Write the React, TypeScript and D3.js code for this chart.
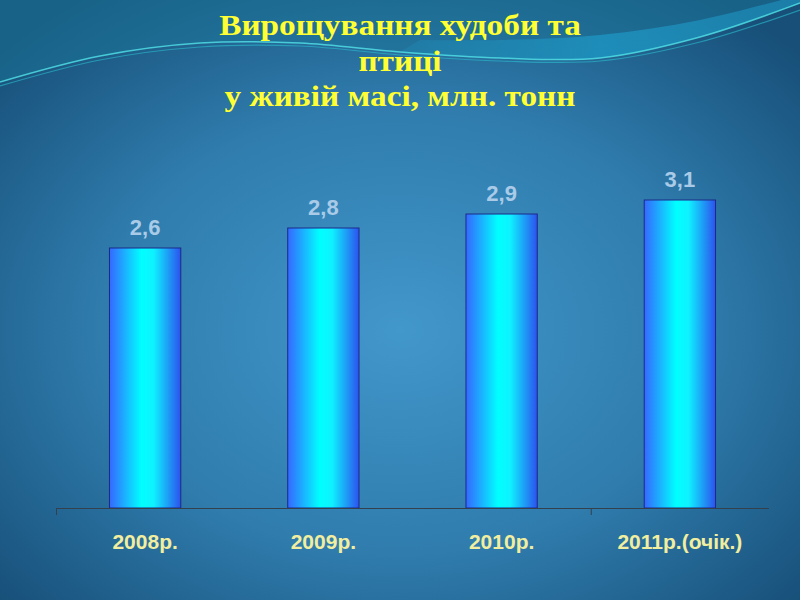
import React from "react";
import * as d3 from "d3";

const categories = ["2008р.", "2009р.", "2010р.", "2011р.(очік.)"];
const values = [2.6, 2.8, 2.94, 3.08];
const valueLabels = ["2,6", "2,8", "2,9", "3,1"];
const titleLines = ["Вирощування худоби та", "птиці", "у живій масі, млн. тонн"];

const W = 800;
const H = 600;

export default function App() {
  const x = d3.scaleBand<string>().domain(categories).range([56, 769]).paddingInner(0.6).paddingOuter(0.3);
  const y = d3.scaleLinear().domain([0, 3.5]).range([508, 158]);
  const band = x.step();
  const tickXs = [56, 56 + band * 3];
  const curve = d3.line().curve(d3.curveCatmullRom);
  const mainPts: [number, number][] = [[0, 82], [100, 56], [200, 43], [300, 43], [400, 52], [500, 58], [600, 58], [700, 37], [800, 3]];
  const linePts2: [number, number][] = [[0, 86], [100, 60], [200, 47], [300, 46], [400, 55], [500, 61], [600, 61], [700, 42], [800, 10]];
  const upperPts: [number, number][] = [[800, -5], [700, 20], [600, 35], [500, 40], [420, 40]];
  const bandPath = (curve(mainPts.slice(4)) ?? "") + "L" + (curve(upperPts) ?? "").slice(1) + "Z";
  const topLeft = "M0,0L0,82" + (curve(mainPts) ?? "").replace(/^M0,82/, "") + "L800,0Z";
  return (
    <svg width={W} height={H} style={{ position: "absolute", left: 0, top: 0 }}>
      <defs>
        <radialGradient id="bg" cx="0.5" cy="0.55" r="0.68">
          <stop offset="0" stopColor="#4297cb" />
          <stop offset="0.55" stopColor="#2f7cad" />
          <stop offset="1" stopColor="#174f78" />
        </radialGradient>
        <linearGradient id="bar" x1="0" x2="1" y1="0" y2="0">
          <stop offset="0" stopColor="#3568ff" />
          <stop offset="0.45" stopColor="#00ffff" />
          <stop offset="0.62" stopColor="#0ef2ff" />
          <stop offset="1" stopColor="#2c52ee" />
        </linearGradient>
        <linearGradient id="bandg" x1="0" x2="1" y1="0" y2="0">
          <stop offset="0" stopColor="#1e9ac8" stopOpacity="0.2" />
          <stop offset="0.5" stopColor="#1e9ac8" stopOpacity="0.7" />
          <stop offset="1" stopColor="#1e9ac8" stopOpacity="0.5" />
        </linearGradient>
      </defs>
      <rect x={0} y={0} width={W} height={H} fill="url(#bg)" />
      <path d={topLeft} fill="#1a7a9c" opacity={0.45} />
      <path d={bandPath} fill="url(#bandg)" />
      <path d={curve(linePts2) ?? ""} fill="none" stroke="#2cc0d0" strokeWidth={1.2} opacity={0.6} />
      <path d={curve(mainPts) ?? ""} fill="none" stroke="#4fdde4" strokeWidth={1.5} opacity={0.85} />
      {titleLines.map((t, i) => (
        <text key={i} x={0} y={0} transform={`translate(400,${35 + i * 35.5}) scale(1.11,1)`} textAnchor="middle" fontFamily="'Liberation Serif', serif" fontWeight="bold" fontSize={30} fill="#ffff33">
          {t}
        </text>
      ))}
      {categories.map((c, i) => (
        <g key={c}>
          <rect x={x(c)} y={y(values[i])} width={x.bandwidth()} height={y(0) - y(values[i])} fill="url(#bar)" stroke="#1a2a8a" strokeWidth={1} />
          <text x={(x(c) ?? 0) + x.bandwidth() / 2} y={y(values[i]) - 13} textAnchor="middle" fontFamily="'Liberation Sans', Arial, sans-serif" fontWeight="bold" fontSize={22} fill="#a9cbe8">
            {valueLabels[i]}
          </text>
          <text x={(x(c) ?? 0) + x.bandwidth() / 2} y={549} textAnchor="middle" fontFamily="'Liberation Sans', Arial, sans-serif" fontWeight="bold" fontSize={21} fill="#f2eea0">
            {c}
          </text>
        </g>
      ))}
      <line x1={56} x2={769} y1={508.5} y2={508.5} stroke="#34404c" strokeWidth={1} />
      {tickXs.map((tx, i) => (
        <line key={i} x1={tx + 0.5} x2={tx + 0.5} y1={508} y2={515} stroke="#34404c" strokeWidth={1} />
      ))}
    </svg>
  );
}
